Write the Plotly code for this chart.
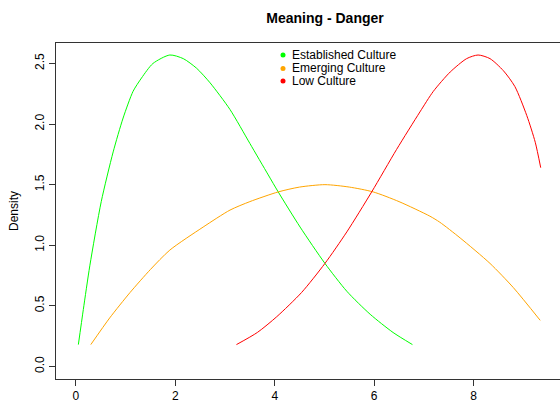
import plotly.graph_objects as go

# Density estimates for each culture group
established_x = [0.05, 0.15, 0.28, 0.51, 0.75, 0.95, 1.15, 1.32, 1.55, 1.89, 2.16, 2.43,
                 2.70, 3.10, 3.50, 3.87, 4.07, 4.51, 5.01, 5.45, 5.92, 6.38, 6.77]
established_y = [0.18, 0.47, 0.83, 1.36, 1.77, 2.05, 2.27, 2.38, 2.50, 2.57, 2.54, 2.46,
                 2.34, 2.12, 1.84, 1.58, 1.44, 1.15, 0.85, 0.62, 0.43, 0.28, 0.18]

emerging_x = [0.30, 0.68, 1.09, 1.50, 1.89, 2.56, 3.10, 3.50, 4.07, 4.50, 5.01, 5.50,
              5.98, 6.50, 7.12, 7.32, 7.73, 8.33, 8.80, 9.34]
emerging_y = [0.18, 0.40, 0.61, 0.80, 0.96, 1.15, 1.29, 1.36, 1.44, 1.48, 1.50, 1.48,
              1.44, 1.36, 1.24, 1.19, 1.06, 0.85, 0.65, 0.38]

low_x = [3.23, 3.65, 4.04, 4.54, 5.01, 5.45, 5.95, 6.45, 6.92, 7.19, 7.53, 7.86,
         8.09, 8.33, 8.60, 8.83, 9.07, 9.24, 9.35]
low_y = [0.18, 0.28, 0.41, 0.61, 0.85, 1.11, 1.44, 1.79, 2.10, 2.27, 2.43, 2.54,
         2.57, 2.54, 2.44, 2.31, 2.07, 1.85, 1.64]

group_names = ["Established Culture", "Emerging Culture", "Low Culture"]
group_colors = ["#00FF00", "#FFA500", "#FF0000"]

x_ticks = [0, 2, 4, 6, 8]
y_ticks = [0.0, 0.5, 1.0, 1.5, 2.0, 2.5]

FONT = "Liberation Sans, Arial, Helvetica, sans-serif"

fig = go.Figure()
for xs, ys, name, col in zip([established_x, emerging_x, low_x],
                             [established_y, emerging_y, low_y],
                             group_names, group_colors):
    fig.add_trace(go.Scatter(x=xs, y=ys, mode="lines", name=name,
                             line=dict(color=col, width=1, shape="spline", smoothing=0.7),
                             showlegend=False))

# Compact key at the top of the panel: dot + label per group
key_x = 283 / 560
key_rows = [55, 68.5, 81]
for name, col, ypx in zip(group_names, group_colors, key_rows):
    yp = (405 - 26 - ypx) / (405 - 26 - 43)
    fig.add_shape(type="circle", xref="paper", yref="paper",
                  xsizemode="pixel", ysizemode="pixel",
                  xanchor=(key_x * 560 - 56) / 504, yanchor=yp,
                  x0=-2.5, x1=2.5, y0=-2.5, y1=2.5,
                  fillcolor=col, line=dict(width=0))
    fig.add_annotation(xref="paper", yref="paper",
                       x=(290 - 56) / 504, y=yp, xanchor="left", yanchor="middle",
                       text=name, showarrow=False,
                       font=dict(family=FONT, size=12, color="#000000"))

fig.update_layout(
    width=560, height=405,
    margin=dict(l=56, r=0, t=43, b=26),
    paper_bgcolor="white", plot_bgcolor="white",
    font=dict(family=FONT, size=12, color="#000000"),
    title=dict(text="<b>Meaning - Danger</b>", x=325 / 560, xref="container",
               xanchor="center", y=1 - 18 / 405, yref="container", yanchor="middle",
               font=dict(family=FONT, size=14, color="#000000")),
    xaxis=dict(range=[-0.4, 9.738], tickvals=x_ticks, ticktext=[str(v) for v in x_ticks],
               showgrid=False, zeroline=False, showline=True, mirror=True,
               linecolor="#333333", linewidth=1, ticks="outside", ticklen=6,
               tickcolor="#333333", tickfont=dict(size=12)),
    yaxis=dict(range=[-0.104, 2.669], tickvals=y_ticks,
               ticktext=[f"{v:.1f}" for v in y_ticks],
               showgrid=False, zeroline=False, showline=True,
               linecolor="#333333", linewidth=1, ticks="outside", ticklen=6,
               tickcolor="#333333", tickangle=-90, tickfont=dict(size=12),
               title=dict(text="Density", standoff=12, font=dict(size=12))),
)

fig.write_html("out.html")
